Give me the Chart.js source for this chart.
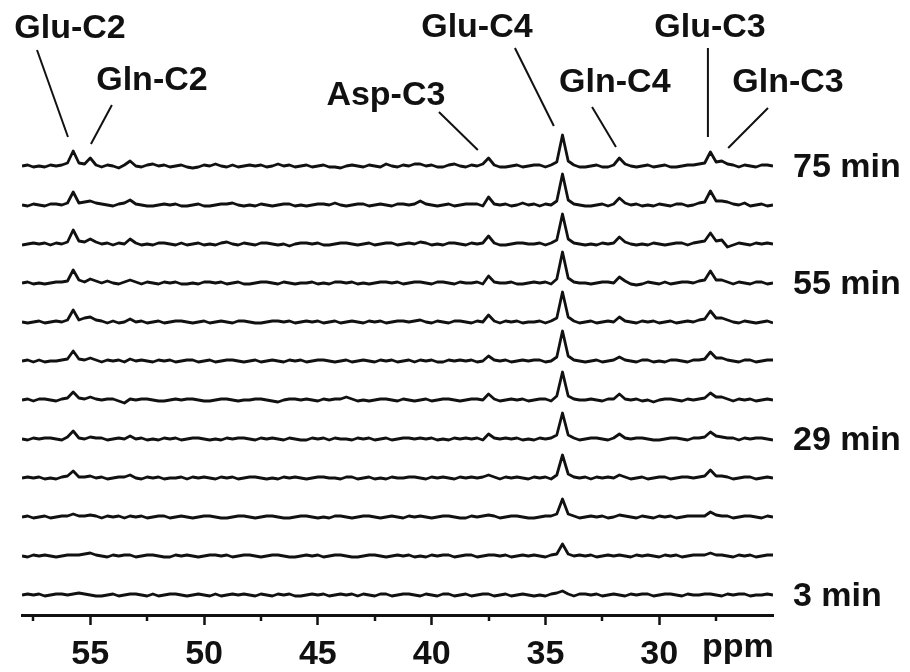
<!DOCTYPE html>
<html>
<head>
<meta charset="utf-8">
<script src="https://cdn.jsdelivr.net/npm/chart.js@4.4.1/dist/chart.umd.min.js"></script>
<style>
  html, body { margin: 0; padding: 0; background: #fff; }
  #wrap { width: 910px; height: 672px; position: relative; }
</style>
</head>
<body>
<div id="wrap"><canvas id="c"></canvas></div>
<script>
// Chemical-shift grid (ppm), shared by every spectrum
const ppm = [
  58,57.75,57.5,57.25,57,56.75,56.5,56.25,56,55.75,
  55.5,55.25,55,54.75,54.5,54.25,54,53.75,53.5,53.25,
  53,52.75,52.5,52.25,52,51.75,51.5,51.25,51,50.75,
  50.5,50.25,50,49.75,49.5,49.25,49,48.75,48.5,48.25,
  48,47.75,47.5,47.25,47,46.75,46.5,46.25,46,45.75,
  45.5,45.25,45,44.75,44.5,44.25,44,43.75,43.5,43.25,
  43,42.75,42.5,42.25,42,41.75,41.5,41.25,41,40.75,
  40.5,40.25,40,39.75,39.5,39.25,39,38.75,38.5,38.25,
  38,37.75,37.5,37.25,37,36.75,36.5,36.25,36,35.75,
  35.5,35.25,35,34.75,34.5,34.25,34,33.75,33.5,33.25,
  33,32.75,32.5,32.25,32,31.75,31.5,31.25,31,30.75,
  30.5,30.25,30,29.75,29.5,29.25,29,28.75,28.5,28.25,
  28,27.75,27.5,27.25,27,26.75,26.5,26.25,26,25.75,
  25.5,25.25,25
];

// Spectra, top (75 min) to bottom (3 min); intensity in arbitrary units
const spectrum1 = [
  0,1,-1,0,-1,1,0,1,3,15, 3,2,8,1,-1,1,0,-2,1,5, 0,-1,1,2,0,1,-1,0,1,-1,
  -2,-1,1,0,2,0,-1,1,-1,0, 1,0,1,-1,0,2,0,1,-1,0, 1,-1,0,1,-1,-1,-2,0,1,0,
  -1,1,0,-1,2,0,-1,1,0,2, 2,0,1,-1,-1,1,2,0,-1,1, 0,2,8,1,-1,-1,0,1,-1,0,
  1,1,-1,1,4,31,5,1,-1,-1, 0,1,-1,-1,1,8,2,0,-1,0, 1,-1,0,1,-1,-1,0,1,1,2,
  3,14,4,5,2,1,-1,1,0,-1, 1,1,0
];
const spectrum2 = [
  0,-1,1,0,-1,1,1,0,2,13, 2,3,4,2,1,0,-1,1,2,5, 1,0,-1,-1,0,1,0,1,-1,-1,
  0,1,-1,-1,0,1,1,2,0,-1, 0,-1,1,0,-1,0,1,1,-1,0, -1,0,1,1,0,2,0,-1,0,1,
  1,-1,0,1,0,-1,1,1,0,1, 4,1,0,-1,0,1,-1,0,1,1, 1,-1,8,1,0,1,-1,0,2,0,
  1,-1,1,0,4,31,5,1,0,-1, -1,0,1,-1,1,7,2,0,1,-1, 0,-1,1,0,-1,1,1,-1,0,2,
  3,14,4,4,3,1,0,2,-1,0, 1,-1,0
];
const spectrum3 = [
  -1,0,1,0,1,-1,1,0,2,14, 3,2,5,2,0,1,-1,1,0,5, 1,-1,0,-1,1,1,0,-1,1,-1,
  0,1,-1,0,-1,1,2,0,-1,1, 0,-1,1,1,0,-1,0,-2,0,1, 1,0,1,-1,-1,0,1,1,0,-1,
  0,1,-1,0,1,1,-1,0,1,0, 2,1,-1,0,-1,1,1,0,-1,1, 0,1,8,1,-1,-1,0,1,1,0,
  0,1,-1,1,4,30,5,1,0,-1, 0,-1,1,0,1,7,2,0,-1,0, -1,1,0,-1,0,1,1,-1,1,2,
  3,11,3,4,-3,-1,1,0,-1,1, 0,1,0
];
const spectrum4 = [
  0,1,-1,0,-1,0,1,1,2,13, 3,1,4,2,0,2,0,-1,1,3, 1,-1,1,0,-1,1,0,1,-1,-1,
  0,-1,1,1,0,1,-1,0,1,-1, -1,0,1,1,0,-1,1,0,-1,0, 0,1,-1,0,-1,1,1,0,1,-1,
  0,-1,0,1,1,0,1,-1,0,1, 1,0,-1,1,1,0,-1,1,0,0, 1,-1,7,1,0,0,1,-1,-1,0,
  1,0,1,-1,4,31,5,1,0,0, -1,0,1,1,0,6,2,-1,-2,-1, 1,0,-1,1,-1,0,1,1,0,2,
  3,12,3,3,1,-1,1,0,-1,1, 1,-1,0
];
const spectrum5 = [
  0,-1,0,1,-1,0,1,0,2,12, 2,4,5,2,1,-1,1,-1,0,3, 0,1,-1,0,1,-1,0,1,1,0,
  -1,0,1,-1,0,1,0,-1,1,1, 0,-1,-1,0,1,1,0,1,-1,0, 1,0,1,-1,0,1,-1,0,1,0,
  -1,1,0,1,-1,0,1,1,0,1, 2,0,-1,1,0,-1,1,1,0,-1, 1,0,7,1,-1,1,0,1,-1,0,
  0,1,-1,1,4,30,5,1,-1,0, 1,-1,0,1,0,5,1,0,-1,1, 0,1,-1,0,1,-1,0,1,0,2,
  3,11,4,4,2,0,-1,1,0,-1, 0,1,-1
];
const spectrum6 = [
  0,1,-1,1,-1,0,0,1,2,10, 2,1,3,1,-1,1,0,1,-1,2, 0,1,0,-1,1,0,1,-1,0,1,
  1,-1,0,1,-1,0,1,1,0,-1, 0,1,-1,0,1,0,-1,1,0,1, -1,0,1,1,0,-1,0,1,-1,0,
  1,0,-1,1,0,1,-1,0,1,-1, 1,0,1,-1,-1,1,0,1,0,1, -1,0,5,1,0,1,-1,0,1,0,
  1,1,-1,0,4,30,5,1,0,-1, 0,1,-1,0,1,4,1,0,-1,1, 1,-1,0,-1,1,1,0,-1,1,1,
  2,9,3,3,1,0,-1,1,1,-1, 0,1,1
];
const spectrum7 = [
  0,1,-1,1,1,0,-1,1,2,8, 2,1,3,1,0,1,1,-1,-3,1, 0,1,1,0,-1,-1,0,1,0,1,
  1,0,-1,-1,0,1,1,0,-1,0, 0,1,1,0,-1,-2,0,1,1,0, 1,0,-1,1,0,1,1,3,1,-1,
  0,-1,0,1,1,0,-1,1,0,-1, 0,1,-1,0,1,1,0,-1,0,1, 1,0,6,1,-1,0,1,0,1,-1,
  0,1,1,-1,4,28,4,1,0,0, 1,0,-1,1,1,6,1,0,1,-1, 0,-2,0,1,1,0,-1,1,0,1,
  2,7,3,3,1,-1,1,0,1,-1, 0,1,0
];
const spectrum8 = [
  0,-1,1,0,1,1,0,-1,2,8, 1,0,2,1,1,-1,0,1,0,3, 0,1,-1,0,-1,1,0,1,-1,0,
  1,1,0,-1,0,-1,1,0,1,1, 0,-1,1,0,1,0,-1,1,0,-1, -1,1,0,1,-1,1,0,0,-1,1,
  0,1,-1,0,1,-1,0,1,1,0, 1,0,1,-1,0,-1,1,0,1,0, 1,-1,5,1,0,1,0,1,-1,0,
  -1,1,0,1,4,26,4,1,-1,0, 1,1,0,-1,1,5,1,0,1,1, 0,-1,-1,0,1,1,0,-1,1,1,
  2,7,3,2,1,1,-1,1,0,1, 1,0,-1
];
const spectrum9 = [
  0,1,0,1,-1,0,-1,1,2,7, 1,1,2,0,1,-1,0,1,1,3, 0,-1,1,0,1,-1,0,0,1,-1,
  1,0,1,0,-1,1,0,1,-1,0, 1,1,0,-1,0,-1,1,0,1,0, -1,0,1,1,0,0,-1,1,1,-1,
  0,1,-1,0,-1,1,0,0,1,1, 0,-1,1,0,1,0,-1,1,0,1, 0,1,3,1,-1,1,0,1,0,-1,
  1,0,1,-1,3,23,4,1,0,1, -1,1,0,1,0,3,1,-1,0,1, -1,0,1,1,-1,0,1,1,0,1,
  2,8,2,2,1,-1,0,1,1,-1, 0,1,0
];
const spectrum10 = [
  0,1,-1,0,1,-1,0,1,1,3, 1,1,2,1,-1,1,0,1,-1,1, 0,1,-1,0,1,1,-1,0,1,0,
  -1,0,1,1,0,-1,-1,0,1,1, 0,-1,0,1,1,0,-1,-1,0,1, 1,0,-1,0,-1,1,1,0,-1,0,
  1,1,0,-1,0,1,0,-1,1,0, 1,0,-1,0,1,1,0,-1,-1,1, 0,1,2,1,-1,0,1,1,0,-1,
  -1,0,1,1,3,18,3,1,-1,0, 1,0,1,-1,0,2,1,0,-1,1, 0,-1,1,0,1,-1,0,1,1,1,
  1,5,2,1,1,-1,0,1,1,0, -1,1,0
];
const spectrum11 = [
  0,-1,1,0,1,0,-1,0,1,1, 1,2,3,1,0,-1,1,0,1,1, -1,0,1,1,0,-1,-1,1,0,1,
  0,-1,0,1,1,0,1,-1,0,1, 1,0,-1,0,1,1,0,-1,-1,0, 1,0,1,-1,0,1,1,0,-1,-1,
  0,1,1,0,-1,0,1,0,1,-1, 0,-1,1,0,1,1,-1,0,1,1, -1,0,1,1,0,1,-1,0,1,0,
  1,0,-1,1,2,12,2,0,1,0, 1,-1,0,1,0,1,0,-1,1,0, 1,0,-1,1,0,1,-1,0,1,1,
  1,3,1,1,0,-1,1,0,1,-1, 0,1,1
];
const spectrum12 = [
  0,1,0,1,-1,0,1,1,0,1, 2,1,0,-1,-1,0,1,-1,0,1, 1,0,-1,1,-1,0,1,1,0,-1,
  0,1,0,-1,1,-1,0,1,0,1, 0,-1,1,0,-1,1,0,1,-1,-1, 0,1,0,1,-1,0,1,0,1,-1,
  1,0,-1,1,1,-1,0,1,1,0, -1,1,0,-1,1,1,-1,0,1,-1, 0,1,1,-1,0,1,-1,0,1,0,
  -1,0,-1,1,2,4,1,-1,1,1, 0,1,-1,0,1,0,-1,1,0,1, 1,-1,0,1,1,0,-1,1,0,0,
  1,1,0,-1,1,0,1,1,-1,0, 0,1,0
];

const spectra = [spectrum1, spectrum2, spectrum3, spectrum4, spectrum5, spectrum6,
                 spectrum7, spectrum8, spectrum9, spectrum10, spectrum11, spectrum12];
const timeLabels = ['75 min', '', '', '55 min', '', '', '', '29 min', '', '', '', '3 min'];

const majorTicks = [55, 50, 45, 40, 35, 30];
const minorTicks = [57.5, 52.5, 47.5, 42.5, 37.5, 32.5, 27.5];
const axisUnit = 'ppm';

const peakNames = ['Glu-C2', 'Gln-C2', 'Asp-C3', 'Glu-C4', 'Gln-C4', 'Glu-C3', 'Gln-C3'];

// ---- layout (not data) ----
const STACK = 39;        // vertical offset between stacked spectra (intensity units)
const FONT = 'bold 34px "Liberation Sans", Arial, sans-serif';
const INK = '#111';
// label anchor (ppm, intensity) and leader line ends, in data coordinates
const peakLayout = [
  { tx: 55.89, ty: 557, x1: 57.34, y1: 545, x2: 55.98, y2: 458 },
  { tx: 52.29, ty: 505, x1: 54.05, y1: 490, x2: 54.97, y2: 451 },
  { tx: 42.01, ty: 490, x1: 39.68, y1: 483, x2: 37.97, y2: 445 },
  { tx: 38.01, ty: 558, x1: 36.34, y1: 547, x2: 34.63, y2: 469 },
  { tx: 31.95, ty: 503, x1: 32.95, y1: 488, x2: 31.90, y2: 448 },
  { tx: 27.77, ty: 558, x1: 27.86, y1: 547, x2: 27.86, y2: 458 },
  { tx: 24.34, ty: 503, x1: 25.22, y1: 487, x2: 26.97, y2: 447 }
];

const n = spectra.length;
const datasets = spectra.map((s, i) => ({
  label: timeLabels[i] || ('spectrum ' + (i + 1)),
  data: ppm.map((x, k) => ({ x: x, y: (n - 1 - i) * STACK + s[k] })),
  borderColor: INK,
  borderWidth: 2.8,
  borderJoinStyle: 'round',
  pointRadius: 0,
  fill: false,
  tension: 0
}));

const decor = {
  id: 'decor',
  afterDraw(chart) {
    const { ctx, scales: { x, y }, chartArea } = chart;
    ctx.save();
    ctx.strokeStyle = INK;
    ctx.fillStyle = INK;
    // minor ticks
    ctx.lineWidth = 2.5;
    minorTicks.forEach(v => {
      const px = Math.round(x.getPixelForValue(v));
      ctx.beginPath();
      ctx.moveTo(px, x.top);
      ctx.lineTo(px, x.top + 6);
      ctx.stroke();
    });
    ctx.font = FONT;
    // unit label
    ctx.textAlign = 'center';
    ctx.textBaseline = 'alphabetic';
    ctx.fillText(axisUnit, x.getPixelForValue(26.54), x.top + 42);
    // time labels on the right
    ctx.textAlign = 'left';
    ctx.textBaseline = 'middle';
    timeLabels.forEach((t, i) => {
      if (!t) return;
      ctx.fillText(t, chartArea.right + 20, y.getPixelForValue((n - 1 - i) * STACK) + 2);
    });
    // peak annotations
    ctx.textAlign = 'center';
    ctx.textBaseline = 'alphabetic';
    ctx.lineWidth = 2;
    peakNames.forEach((name, j) => {
      const L = peakLayout[j];
      ctx.fillText(name, x.getPixelForValue(L.tx), y.getPixelForValue(L.ty));
      ctx.beginPath();
      ctx.moveTo(x.getPixelForValue(L.x1), y.getPixelForValue(L.y1));
      ctx.lineTo(x.getPixelForValue(L.x2), y.getPixelForValue(L.y2));
      ctx.stroke();
    });
    ctx.restore();
  }
};

new Chart(document.getElementById('c'), {
  type: 'line',
  data: { datasets },
  options: {
    responsive: true,
    maintainAspectRatio: false,
    animation: false,
    layout: { padding: { left: 22, right: 137, top: 0, bottom: 0 } },
    plugins: { legend: { display: false }, tooltip: { enabled: false } },
    scales: {
      x: {
        type: 'linear',
        reverse: true,
        min: 25,
        max: 58,
        afterBuildTicks: (s) => { s.ticks = majorTicks.map(v => ({ value: v })); },
        afterFit: (s) => { s.height = 57; },
        border: { display: true, width: 3, color: INK },
        grid: { display: true, drawOnChartArea: false, drawTicks: true, tickLength: 10, tickWidth: 2.5, tickColor: INK },
        ticks: {
          autoSkip: false, maxRotation: 0, padding: 9, color: INK,
          font: { family: '"Liberation Sans", Arial, sans-serif', size: 34, weight: 'bold' },
          callback: (v) => String(v)
        }
      },
      y: { display: false, min: -20, max: 595 }
    }
  },
  plugins: [decor]
});
</script>
</body>
</html>
